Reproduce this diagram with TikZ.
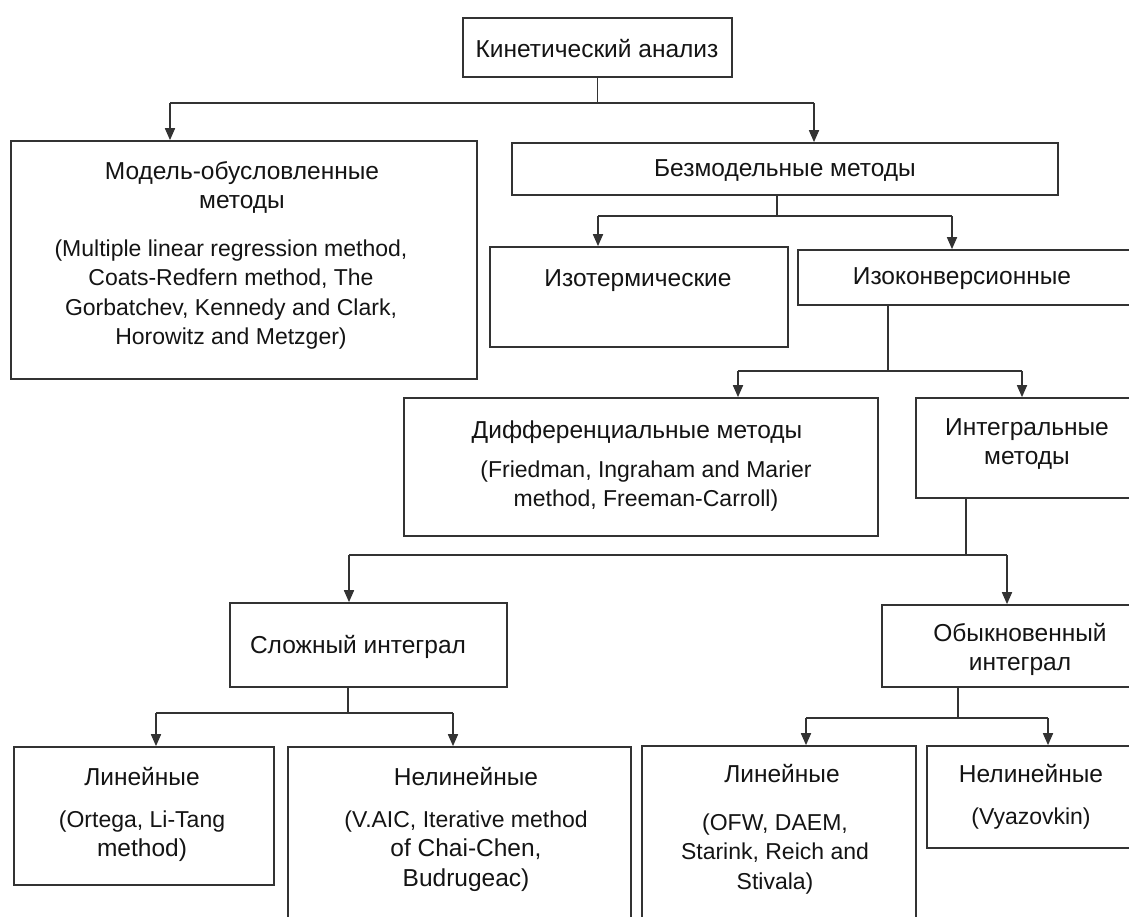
\documentclass[tikz,border=0pt]{standalone}
\usepackage{fontspec}
\setmainfont{Liberation Sans}
\usepackage{xcolor}
\usepackage{tikz}
\usetikzlibrary{arrows.meta}
\definecolor{linegray}{HTML}{333333}
\definecolor{textblack}{HTML}{141414}
\newcommand{\refs}{\fontsize{23}{29.5}\selectfont}

\begin{document}
\begin{tikzpicture}[x=1pt, y=-1pt, >={Triangle[length=12pt,width=10pt]},
  box/.style={draw=linegray, line width=1.7pt, inner sep=0pt},
  txt/.style={font=\fontsize{24.5}{29.5}\selectfont, text=textblack, align=center, inner sep=0pt, anchor=north},
  reftxt/.style={txt, font=\refs},
  link/.style={draw=linegray, line width=1.7pt},
  arr/.style={link, ->}]
  \useasboundingbox (0,0) rectangle (1129,916);
  \clip (0,0) rectangle (1129,916);
  \fill[white] (0,0) rectangle (1129,916);

  % boxes
  \node[box, minimum width=269pt, minimum height=59pt]  (kin)   at (597.5,47.5) {};
  \node[box, minimum width=466pt, minimum height=238pt] (model) at (244,260)    {};
  \node[box, minimum width=546pt, minimum height=52pt]  (bez)   at (785,169)    {};
  \node[box, minimum width=298pt, minimum height=100pt] (izot)  at (639,297)    {};
  \node[box, minimum width=352pt, minimum height=55pt]  (izok)  at (974,277.5)  {};
  \node[box, minimum width=474pt, minimum height=138pt] (diff)  at (641,467)    {};
  \node[box, minimum width=234pt, minimum height=100pt] (integ) at (1033,448)   {};
  \node[box, minimum width=277pt, minimum height=84pt]  (slozh) at (368.5,645)  {};
  \node[box, minimum width=268pt, minimum height=82pt]  (obyk)  at (1016,646)   {};
  \node[box, minimum width=260pt, minimum height=138pt] (linL)  at (144,816)    {};
  \node[box, minimum width=343pt, minimum height=193pt] (nelL)  at (459.5,843.5) {};
  \node[box, minimum width=274pt, minimum height=194pt] (linR)  at (779,843)    {};
  \node[box, minimum width=223pt, minimum height=102pt] (nelR)  at (1038.5,797) {};

  % texts
  \node[txt] at (597,39)  {Кинетический анализ};
  \node[txt] at (242,161) {Модель-обусловленные\\методы};
  \node[reftxt] at (231,239.5) {(Multiple linear regression method,\\Coats-Redfern method, The\\
    Gorbatchev, Kennedy and Clark,\\Horowitz and Metzger)};
  \node[txt] at (785,159) {Безмодельные методы};
  \node[txt] at (638,269) {Изотермические};
  \node[txt] at (962,267) {Изоконверсионные};
  \node[txt] at (637,421) {Дифференциальные методы};
  \node[reftxt] at (646,460.5) {(Friedman, Ingraham and Marier\\method, Freeman-Carroll)};
  \node[txt] at (1027,418) {Интегральные\\методы};
  \node[txt] at (358,635)  {Сложный интеграл};
  \node[txt] at (1020,623) {Обыкновенный\\интеграл};
  \node[txt] at (142,767)  {Линейные\\[12.5pt]\refs(Ortega, Li-Tang\\method)};
  \node[txt] at (466,767)  {Нелинейные\\[12.5pt]\refs(V.AIC, Iterative method\\of Chai-Chen,\\Budrugeac)};
  \node[txt] at (782,764)  {Линейные};
  \node[reftxt] at (775,813.5) {(OFW, DAEM,\\Starink, Reich and\\Stivala)};
  \node[txt] at (1031,764) {Нелинейные\\[12.5pt]\refs(Vyazovkin)};

  % junctions
  \coordinate (kin-j)   at (597.5,103); \coordinate (kin-l)   at (170,103); \coordinate (kin-r)   at (814,103);
  \coordinate (bez-j)   at (777,216);   \coordinate (bez-l)   at (598,216); \coordinate (bez-r)   at (952,216);
  \coordinate (izok-j)  at (888,371);   \coordinate (izok-l)  at (738,371); \coordinate (izok-r)  at (1022,371);
  \coordinate (integ-j) at (966,555);   \coordinate (integ-l) at (349,555); \coordinate (integ-r) at (1007,555);
  \coordinate (slozh-j) at (348,713);   \coordinate (slozh-l) at (156,713); \coordinate (slozh-r) at (453,713);
  \coordinate (obyk-j)  at (958,718);   \coordinate (obyk-l)  at (806,718); \coordinate (obyk-r)  at (1048,718);

  % connectors
  \draw[link] (kin.south) -- (kin-j);
  \draw[link] (kin-l) -- (kin-r);
  \draw[arr]  (kin-l) -- (kin-l |- model.north);
  \draw[arr]  (kin-r) -- (kin-r |- bez.north);

  \draw[link] (bez-j |- bez.south) -- (bez-j);
  \draw[link] (bez-l) -- (bez-r);
  \draw[arr]  (bez-l) -- (bez-l |- izot.north);
  \draw[arr]  (bez-r) -- (bez-r |- izok.north);

  \draw[link] (izok-j |- izok.south) -- (izok-j);
  \draw[link] (izok-l) -- (izok-r);
  \draw[arr]  (izok-l) -- (izok-l |- diff.north);
  \draw[arr]  (izok-r) -- (izok-r |- integ.north);

  \draw[link] (integ-j |- integ.south) -- (integ-j);
  \draw[link] (integ-l) -- (integ-r);
  \draw[arr]  (integ-l) -- (integ-l |- slozh.north);
  \draw[arr]  (integ-r) -- (integ-r |- obyk.north);

  \draw[link] (slozh-j |- slozh.south) -- (slozh-j);
  \draw[link] (slozh-l) -- (slozh-r);
  \draw[arr]  (slozh-l) -- (slozh-l |- linL.north);
  \draw[arr]  (slozh-r) -- (slozh-r |- nelL.north);

  \draw[link] (obyk-j |- obyk.south) -- (obyk-j);
  \draw[link] (obyk-l) -- (obyk-r);
  \draw[arr]  (obyk-l) -- (obyk-l |- linR.north);
  \draw[arr]  (obyk-r) -- (obyk-r |- nelR.north);
\end{tikzpicture}
\end{document}
